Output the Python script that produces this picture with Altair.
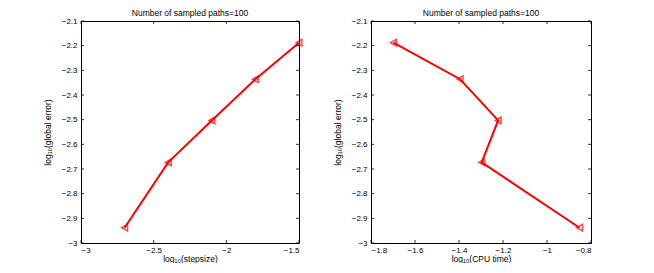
import altair as alt
import pandas as pd

# data
step_x = [-2.7, -2.4, -2.1, -1.8, -1.5]
err_y = [-2.938, -2.673, -2.503, -2.336, -2.188]
cpu_x = [-0.852, -1.297, -1.222, -1.395, -1.698]

y_ticks = [-3.0, -2.9, -2.8, -2.7, -2.6, -2.5, -2.4, -2.3, -2.2, -2.1]
step_ticks = [-3.0, -2.5, -2.0, -1.5]
cpu_ticks = [-1.8, -1.6, -1.4, -1.2, -1.0, -0.8]

title_txt = "Number of sampled paths=100"
y_title = "log₁₀(global error)"
FONT = "Liberation Sans"
H = 222
TL = 3


def panel(xs, xdomain, xticks, xtitle, W):
    df = pd.DataFrame({"x": xs, "y": err_y, "i": list(range(len(xs)))})
    xs_ = alt.Scale(domain=xdomain, nice=False, zero=False)
    ys_ = alt.Scale(domain=[-3.0, -2.1], nice=False, zero=False)
    xax = alt.Axis(values=xticks, format="~g", title=xtitle, grid=False,
                   ticks=False, domain=False, labelPadding=3, titlePadding=0)
    yax = alt.Axis(values=y_ticks, format="~g", title=y_title, grid=False,
                   ticks=False, domain=False, labelPadding=4, titlePadding=9)
    X = lambda: alt.X("x:Q", scale=xs_, axis=xax)
    Y = lambda: alt.Y("y:Q", scale=ys_, axis=yax)
    line = alt.Chart(df).mark_line(color="#ff0000", strokeWidth=2).encode(
        x=X(), y=Y(), order="i:Q",
    )
    pts = alt.Chart(df).mark_point(shape="triangle-left", filled=False,
                                   color="#ff0000", size=45, strokeWidth=1.5).encode(
        x=X(), y=Y(),
    )
    xt = pd.DataFrame({"x": xticks})
    yt = pd.DataFrame({"y": y_ticks})
    tb = alt.Chart(xt).mark_rule(color="black", strokeWidth=0.8).encode(
        x=X(), y=alt.value(H), y2=alt.value(H - TL))
    tt = alt.Chart(xt).mark_rule(color="black", strokeWidth=0.8).encode(
        x=X(), y=alt.value(0), y2=alt.value(TL))
    tl = alt.Chart(yt).mark_rule(color="black", strokeWidth=0.8).encode(
        y=Y(), x=alt.value(0), x2=alt.value(TL))
    tr = alt.Chart(yt).mark_rule(color="black", strokeWidth=0.8).encode(
        y=Y(), x=alt.value(W), x2=alt.value(W - TL))
    return alt.layer(line, pts, tb, tt, tl, tr).properties(
        width=W, height=H,
        title=alt.TitleParams(title_txt, fontSize=8.5, fontWeight="normal",
                              font=FONT, offset=0),
    )


left = panel(step_x, [-3.0, -1.5], step_ticks, "log₁₀(stepsize)", 218)
right = panel(cpu_x, [-1.8, -0.8], cpu_ticks, "log₁₀(CPU time)", 220)

chart = alt.hconcat(left, right, spacing=26).properties(
    padding={"left": 34, "top": 0, "right": 0, "bottom": 0},
    background="white",
).configure_view(stroke="black", strokeWidth=1).configure_axis(
    labelFont=FONT, titleFont=FONT, labelFontSize=8, titleFontSize=8.5,
    titleFontWeight="normal", labelColor="black", titleColor="black",
)

chart.save("out.html", embed_options={"renderer": "svg", "actions": False})
